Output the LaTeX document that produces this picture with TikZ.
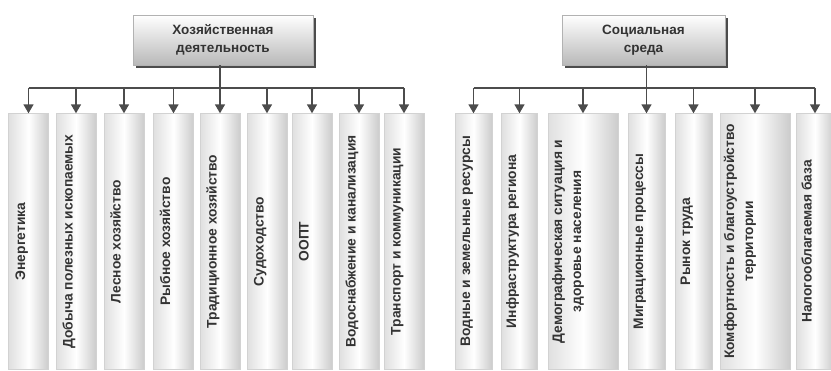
\documentclass[tikz,border=0pt]{standalone}
\usepackage{fontspec}
\setmainfont{Liberation Sans}
\usetikzlibrary{arrows.meta,shadows}

\newcommand{\vtext}[1]{\rotatebox{90}{\raisebox{3.5pt}[0pt][0pt]{#1}}}
\newcommand{\vtwo}[2]{\rotatebox{90}{\raisebox{11pt}[0pt][0pt]{\begin{tabular}{@{}c@{}}#1\\[3pt]#2\end{tabular}}}}

\begin{document}
\begin{tikzpicture}[x=1pt,y=-1pt,
    head/.style={draw=gray!60, top color=white, bottom color=gray!55,
      drop shadow={shadow xshift=3pt, shadow yshift=-3pt, fill=black!70, opacity=1},
      minimum height=50pt, align=center, inner sep=0pt,
      font=\fontsize{13.5}{18}\selectfont\bfseries, text=black!80},
    col/.style={draw=gray!35, left color=gray!25, right color=gray!40, middle color=white,
      minimum width=40pt, minimum height=256pt, inner sep=0pt,
      font=\fontsize{13.8}{16}\selectfont\bfseries, text=black!80},
    link/.style={draw=black!70, line width=1.5pt},
    arr/.style={link, -{Triangle[length=9pt,width=10pt]}}]
    \useasboundingbox (0,0) rectangle (831,371);

    \node[head, minimum width=180pt] (hoz) at (223,40) {Хозяйственная\\деятельность};
    \node[head, minimum width=163pt] (soc) at (643.5,40) {Социальная\\среда};

    \coordinate (bus) at (0,88);

    \node[col] (e1) at (28.5,241.5) {\vtext{Энергетика}};
    \node[col] (e2) at (76,241.5) {\vtext{Добыча полезных ископаемых}};
    \node[col] (e3) at (124,241.5) {\vtext{Лесное хозяйство}};
    \node[col] (e4) at (173.5,241.5) {\vtext{Рыбное хозяйство}};
    \node[col] (e5) at (220,241.5) {\vtext{Традиционное хозяйство}};
    \node[col] (e6) at (267,241.5) {\vtext{Судоходство}};
    \node[col] (e7) at (312,241.5) {\vtext{ООПТ}};
    \node[col] (e8) at (359,241.5) {\vtext{Водоснабжение и канализация}};
    \node[col] (e9) at (404,241.5) {\vtext{Транспорт и коммуникации}};

    \node[col, minimum width=37pt] (s1) at (473.5,241.5) {\vtext{Водные и земельные ресурсы}};
    \node[col, minimum width=36pt] (s2) at (519.5,241.5) {\vtext{Инфраструктура региона}};
    \node[col, minimum width=70pt] (s3) at (583,241.5) {\vtwo{Демографическая ситуация и}{здоровье населения}};
    \node[col, minimum width=37pt] (s4) at (646.5,241.5) {\vtext{Миграционные процессы}};
    \node[col, minimum width=37pt] (s5) at (693.5,241.5) {\vtext{Рынок труда}};
    \node[col, minimum width=70pt] (s6) at (755,241.5) {\vtwo{Комфортность и благоустройство}{территории}};
    \node[col, minimum width=37pt] (s7) at (815,241.5) {\vtext{Налогооблагаемая база}};

    \draw[link] (e1 |- bus) -- (e9 |- bus);
    \draw[link] (s1 |- bus) -- (s7 |- bus);

    \draw[arr] (e5 |- hoz.south) -- (e5.north);
    \draw[arr] (e1 |- bus) -- (e1.north);
    \draw[arr] (e2 |- bus) -- (e2.north);
    \draw[arr] (e3 |- bus) -- (e3.north);
    \draw[arr] (e4 |- bus) -- (e4.north);
    \draw[arr] (e6 |- bus) -- (e6.north);
    \draw[arr] (e7 |- bus) -- (e7.north);
    \draw[arr] (e8 |- bus) -- (e8.north);
    \draw[arr] (e9 |- bus) -- (e9.north);

    \draw[arr] (s4 |- soc.south) -- (s4.north);
    \draw[arr] (s1 |- bus) -- (s1.north);
    \draw[arr] (s2 |- bus) -- (s2.north);
    \draw[arr] (s3 |- bus) -- (s3.north);
    \draw[arr] (s5 |- bus) -- (s5.north);
    \draw[arr] (s6 |- bus) -- (s6.north);
    \draw[arr] (s7 |- bus) -- (s7.north);
\end{tikzpicture}
\end{document}
